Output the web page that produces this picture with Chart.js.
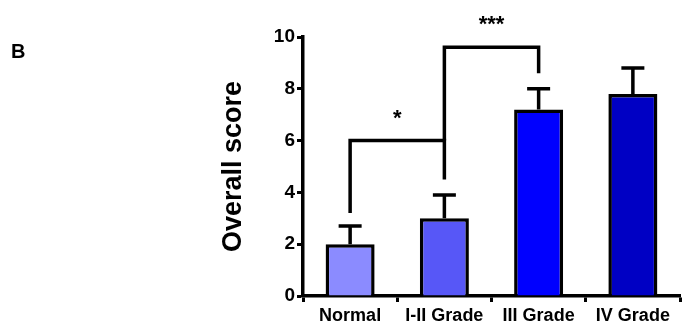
<!DOCTYPE html>
<html>
<head>
<meta charset="utf-8">
<script src="https://cdn.jsdelivr.net/npm/chart.js@4"></script>
<style>
    html, body { margin: 0; padding: 0; background: #fff; }
    #wrap { width: 683px; height: 335px; }
</style>
</head>
<body>
<div id="wrap"><canvas id="scoreChart"></canvas></div>
<script>
// data
const groups = ['Normal', 'I-II Grade', 'III Grade', 'IV Grade'];
const meanScore = [2.0, 3.0, 7.2, 7.8];
const errUpper = [2.7, 3.9, 8.0, 8.8];
const barColors = ['#8b8bff', '#5757f7', '#0000ff', '#0000c4'];
const yTicks = [0, 2, 4, 6, 8, 10];

// significance brackets
const sigFrom = [0, 1];
const sigTo = [1, 2];
const sigLevel = [6.0, 9.6];
const sigLeftEnd = [3.2, 6.0];
const sigRightEnd = [4.5, 8.6];
const sigText = ['*', '***'];

const FONT = "'Liberation Sans', Arial, sans-serif";

// error bars (upper only) drawn before the bars so bars cover the stem
const errorBars = {
    id: 'errorBars',
    beforeDatasetsDraw(chart) {
        const ctx = chart.ctx;
        const x = chart.scales.x, y = chart.scales.y;
        ctx.save();
        ctx.strokeStyle = '#000';
        ctx.lineWidth = 3.5;
        ctx.lineCap = 'butt';
        meanScore.forEach(function(v, i) {
            const cx = x.getPixelForValue(i);
            const y0 = y.getPixelForValue(v);
            const y1 = y.getPixelForValue(errUpper[i]);
            ctx.beginPath();
            ctx.moveTo(cx, y0);
            ctx.lineTo(cx, y1);
            ctx.moveTo(cx - 11.5, y1);
            ctx.lineTo(cx + 11.5, y1);
            ctx.stroke();
        });
        ctx.restore();
    }
};

const brackets = {
    id: 'brackets',
    afterDatasetsDraw(chart) {
        const ctx = chart.ctx;
        const x = chart.scales.x, y = chart.scales.y;
        ctx.save();
        ctx.strokeStyle = '#000';
        ctx.lineWidth = 3.5;
        ctx.lineJoin = 'miter';
        for (let i = 0; i < sigFrom.length; i++) {
            const xa = x.getPixelForValue(sigFrom[i]);
            const xb = x.getPixelForValue(sigTo[i]);
            const yl = y.getPixelForValue(sigLevel[i]);
            ctx.beginPath();
            ctx.moveTo(xa, y.getPixelForValue(sigLeftEnd[i]));
            ctx.lineTo(xa, yl);
            ctx.lineTo(xb, yl);
            ctx.lineTo(xb, y.getPixelForValue(sigRightEnd[i]));
            ctx.stroke();

            ctx.fillStyle = '#000';
            ctx.font = 'bold 22px ' + FONT;
            ctx.textAlign = 'center';
            ctx.textBaseline = 'alphabetic';
            ctx.fillText(sigText[i], (xa + xb) / 2, yl - 16);
        }
        // panel letter
        ctx.font = 'bold 20px ' + FONT;
        ctx.textAlign = 'left';
        ctx.fillText('B', 11, 58);
        ctx.restore();
    }
};

new Chart(document.getElementById('scoreChart'), {
    type: 'bar',
    data: {
        labels: groups,
        datasets: [{
            data: meanScore,
            backgroundColor: barColors,
            borderColor: '#000',
            borderWidth: 3.5,
            borderSkipped: 'bottom',
            barPercentage: 0.52,
            categoryPercentage: 1.0
        }]
    },
    options: {
        responsive: true,
        maintainAspectRatio: false,
        animation: false,
        layout: {
            padding: { left: 217, right: 3, top: 37, bottom: 0 }
        },
        plugins: {
            legend: { display: false },
            tooltip: { enabled: false }
        },
        scales: {
            x: {
                afterFit(scale) { scale.height = 39; },
                grid: {
                    drawOnChartArea: false,
                    drawTicks: true,
                    tickLength: 6,
                    tickWidth: 3,
                    tickColor: '#000'
                },
                border: { color: '#000', width: 3.5 },
                ticks: {
                    color: '#000',
                    padding: 3,
                    font: { family: FONT, size: 18, weight: 'bold' }
                }
            },
            y: {
                min: 0,
                max: 10,
                afterFit(scale) { scale.width = 86; },
                afterBuildTicks(scale) {
                    scale.ticks = yTicks.map(function(v) { return { value: v }; });
                },
                grid: {
                    drawOnChartArea: false,
                    drawTicks: true,
                    tickLength: 6,
                    tickWidth: 3,
                    tickColor: '#000'
                },
                border: { color: '#000', width: 3.5 },
                ticks: {
                    color: '#000',
                    padding: 2,
                    font: { family: FONT, size: 19, weight: 'bold' }
                },
                title: {
                    display: true,
                    text: 'Overall score',
                    color: '#000',
                    padding: 0,
                    font: { family: FONT, size: 27, weight: 'bold' }
                }
            }
        }
    },
    plugins: [errorBars, brackets]
});
</script>
</body>
</html>
